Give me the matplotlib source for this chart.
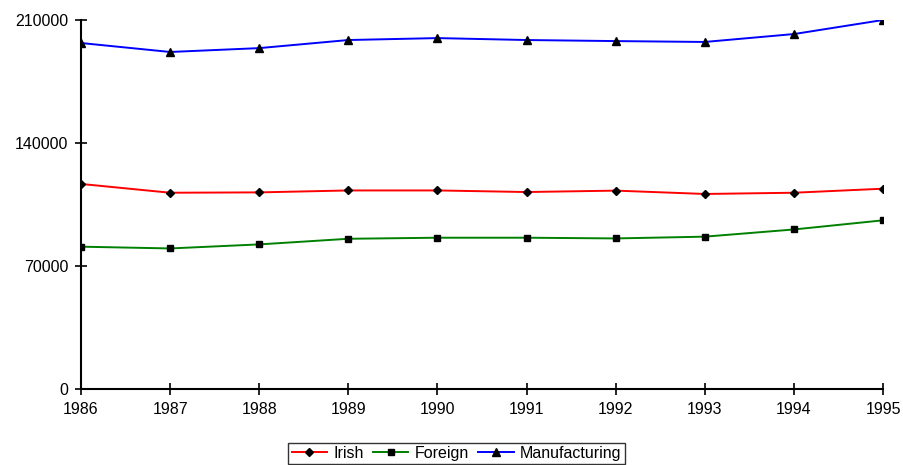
import matplotlib.pyplot as plt

plt.rcParams['font.family'] = ['Liberation Sans', 'DejaVu Sans']

# employment figures by year
years = [1986, 1987, 1988, 1989, 1990, 1991, 1992, 1993, 1994, 1995]
irish = [116700, 111700, 111900, 113000, 113000, 112100, 112900, 111000, 111700, 114000]
foreign = [81000, 80000, 82300, 85500, 86100, 86100, 85700, 86700, 90800, 96000]
manufacturing = [196900, 191800, 194000, 198600, 199700, 198600, 198000, 197500, 202000, 210000]

fig = plt.figure(figsize=(9.04, 4.65), dpi=100)
ax = fig.add_axes([0.0896, 0.1634, 0.8872, 0.7936])

ax.plot(years, irish, color='red', lw=1.4, marker='D', ms=4.5, mfc='black', mec='black', label='Irish')
ax.plot(years, foreign, color='green', lw=1.4, marker='s', ms=4.5, mfc='black', mec='black', label='Foreign')
ax.plot(years, manufacturing, color='blue', lw=1.4, marker='^', ms=5.5, mfc='black', mec='black', label='Manufacturing')

ax.set_xlim(1986, 1995)
ax.set_ylim(0, 210000)
ax.set_xticks(years)
ax.set_yticks([0, 70000, 140000, 210000])
ax.tick_params(direction='inout', length=8, width=1.2, labelsize=11.5, pad=5)

for s in ['top', 'right']:
    ax.spines[s].set_visible(False)
for s in ['left', 'bottom']:
    ax.spines[s].set_linewidth(1.5)

leg = fig.legend(loc='upper center', bbox_to_anchor=(0.505, 0.048), ncol=3,
                 frameon=True, fancybox=False, edgecolor='black', fontsize=11.5,
                 handlelength=2.2, handletextpad=0.4, columnspacing=0.6,
                 borderpad=0.2, borderaxespad=0)
leg.get_frame().set_linewidth(1.0)

plt.savefig('out.png', dpi=100)
